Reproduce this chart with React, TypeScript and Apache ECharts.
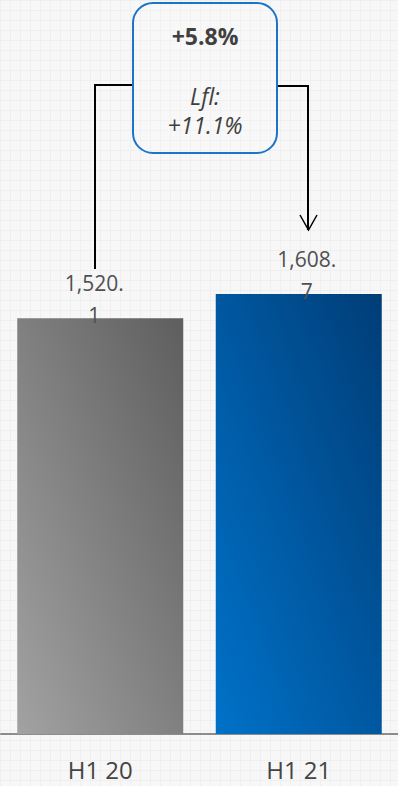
import React, { useEffect, useRef } from "react";
import * as echarts from "echarts";

const categories = ["H1 20", "H1 21"];
const values = [1520.1, 1608.7];
const changeLabel = "+5.8%";
const lflTitle = "Lfl:";
const lflValue = "+11.1%";

const FONT = "'Open Sans', 'Noto Sans', sans-serif";

function fmt(v: number): string {
  const s = v.toLocaleString("en-US", { minimumFractionDigits: 1, maximumFractionDigits: 1 });
  const i = s.indexOf(".");
  return s.slice(0, i + 1) + "\n" + s.slice(i + 1);
}

export default function App() {
  const ref = useRef<HTMLDivElement>(null);
  useEffect(() => {
    if (!ref.current) return;
    const chart = echarts.init(ref.current, undefined, { renderer: "svg" });
    const grad = (c1: string, c2: string) =>
      new echarts.graphic.LinearGradient(0, 1, 1, 0, [
        { offset: 0, color: c1 },
        { offset: 1, color: c2 },
      ]);
    const barColors = [grad("#a2a2a2", "#5e5e5e"), grad("#0072c9", "#003d77")];
    const labelOffsets = [[-6, 0], [8, 0]];
    chart.setOption({
      animation: false,
      backgroundColor: "transparent",
      grid: { left: 1, right: 0, top: 187, bottom: 52 },
      xAxis: {
        type: "category",
        data: categories,
        axisLine: { show: true, lineStyle: { color: "#8c8c8c", width: 2 } },
        axisTick: { show: false },
        axisLabel: { color: "#444444", fontSize: 24, fontFamily: FONT, margin: 23 },
        splitLine: { show: false },
      },
      yAxis: {
        type: "value",
        min: 0,
        max: 2000,
        show: false,
        splitLine: { show: false },
      },
      series: [
        {
          type: "bar",
          barWidth: 166,
          data: values.map((v, i) => ({
            value: v,
            itemStyle: { color: barColors[i] },
            label: { offset: labelOffsets[i] },
          })),
          label: {
            show: true,
            position: "top",
            distance: -13,
            formatter: (p: any) => fmt(p.value),
            color: "#505050",
            fontSize: 21,
            lineHeight: 32,
            fontFamily: FONT,
          },
        },
      ],
      graphic: [
        {
          type: "polyline",
          shape: { points: [[133, 85], [95, 85], [95, 269]] },
          style: { stroke: "#000000", lineWidth: 2, fill: "none" },
        },
        {
          type: "polyline",
          shape: { points: [[277, 86], [308, 86], [308, 230]] },
          style: { stroke: "#000000", lineWidth: 2, fill: "none" },
        },
        {
          type: "polyline",
          shape: { points: [[300, 215], [308.5, 230], [317, 215]] },
          style: { stroke: "#000000", lineWidth: 1.5, fill: "none" },
        },
        {
          type: "rect",
          shape: { x: 133, y: 3, width: 144, height: 150, r: 20 },
          style: { stroke: "#1a74c9", lineWidth: 2, fill: "rgba(255,255,255,0.15)" },
        },
        {
          type: "text",
          x: 205,
          y: 36,
          style: {
            text: changeLabel,
            fontSize: 23,
            fontWeight: "bold",
            fontFamily: FONT,
            fill: "#404040",
            align: "center",
            verticalAlign: "middle",
          },
        },
        {
          type: "text",
          x: 205,
          y: 96,
          style: {
            text: lflTitle,
            fontSize: 23,
            fontStyle: "italic",
            fontFamily: FONT,
            fill: "#404040",
            align: "center",
            verticalAlign: "middle",
          },
        },
        {
          type: "text",
          x: 205,
          y: 125,
          style: {
            text: lflValue,
            fontSize: 23,
            fontStyle: "italic",
            fontFamily: FONT,
            fill: "#404040",
            align: "center",
            verticalAlign: "middle",
          },
        },
      ],
    });
    return () => chart.dispose();
  }, []);

  return (
    <div
      style={{
        position: "fixed",
        left: 0,
        top: 0,
        width: 398,
        height: 786,
        backgroundColor: "#f7f7f7",
        backgroundImage:
          "linear-gradient(#efefef 1px, transparent 1px), linear-gradient(90deg, #efefef 1px, transparent 1px)",
        backgroundSize: "10px 10px",
      }}
    >
      <div ref={ref} style={{ width: 398, height: 786 }} />
    </div>
  );
}
